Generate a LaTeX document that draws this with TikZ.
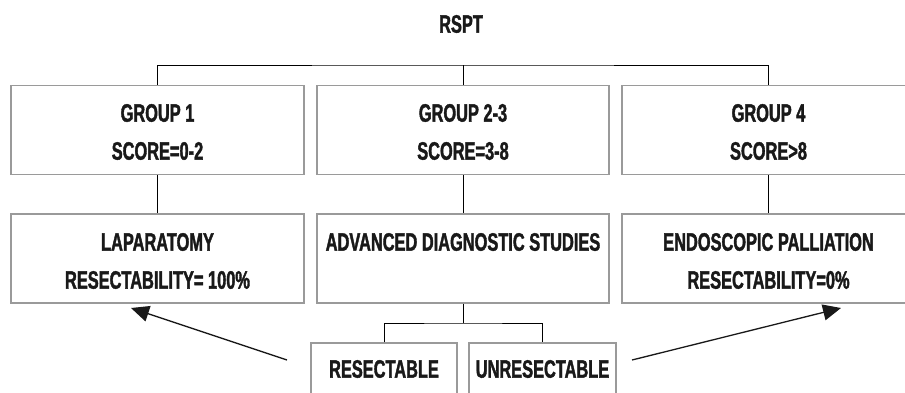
\documentclass[tikz,border=0pt]{standalone}
\usepackage{fontspec}
\newfontfamily\cf[FakeStretch=0.65,FakeBold=1.5]{Liberation Sans Bold}
\usetikzlibrary{arrows.meta}
\definecolor{boxgray}{HTML}{9A9A9A}
\begin{document}
\begin{tikzpicture}[x=1pt,y=-1pt,
  box/.style={draw=boxgray, line width=1.1pt, inner sep=0pt, minimum height=89pt},
  txt/.style={font=\cf\fontsize{25.2}{30}\selectfont, text=black!90, inner sep=0pt},
  conn/.style={draw=black, line width=0.9pt},
  arr/.style={draw=black!90, line width=1.3pt, -{Triangle[length=18pt,width=16pt]}}]
\clip (0,0) rectangle (905,392);
\fill[white] (0,0) rectangle (905,392);
% title
\node[txt] (title) at (461,24) {RSPT};
% group boxes
\node[box, minimum width=293pt] (g1) at (157.5,130) {};
\node[box, minimum width=292pt] (g2) at (463,130) {};
\node[box, minimum width=293pt] (g3) at (768.5,130) {};
% lower boxes
\node[box, minimum width=293pt] (l1) at (157.5,258.5) {};
\node[box, minimum width=292pt] (l2) at (463,258.5) {};
\node[box, minimum width=293pt] (l3) at (768.5,258.5) {};
% bottom boxes
\node[box, minimum width=146pt, minimum height=53pt] (r1) at (384,369.5) {};
\node[box, minimum width=147pt, minimum height=53pt] (r2) at (542.5,369.5) {};
% texts
\node[txt] (g1a) at (157.5,113) {GROUP 1};
\node[txt] (g1b) at (157.5,151) {SCORE=0-2};
\node[txt] (g2a) at (463,113) {GROUP 2-3};
\node[txt] (g2b) at (463,151) {SCORE=3-8};
\node[txt] (g3a) at (768.5,113) {GROUP 4};
\node[txt] (g3b) at (768.5,151) {SCORE>8};
\node[txt] (l1a) at (157.5,242) {LAPARATOMY};
\node[txt] (l1b) at (157.5,280) {RESECTABILITY= 100\%};
\node[txt] (l2a) at (463,242) {ADVANCED DIAGNOSTIC STUDIES};
\node[txt] (l3a) at (768.5,242) {ENDOSCOPIC PALLIATION};
\node[txt] (l3b) at (768.5,280) {RESECTABILITY=0\%};
\node[txt] (r1a) at (384,369) {RESECTABLE};
\node[txt] (r2a) at (542.5,369) {UNRESECTABLE};
% connectors
\coordinate (bus) at (463,65);
\coordinate (bus2) at (463,323);
\draw[conn] (g1.north) |- (bus) -| (g3.north);
\draw[conn] (g2.north) -- (bus);
\draw[conn] (g1.south) -- (l1.north);
\draw[conn] (g2.south) -- (l2.north);
\draw[conn] (g3.south) -- (l3.north);
\draw[conn] (l2.south) -- (bus2);
\draw[conn] (r1.north) |- (bus2) -| (r2.north);
% arrows
\coordinate (a1s) at (287,360);
\coordinate (a1e) at (131,308);
\coordinate (a2s) at (632,360);
\coordinate (a2e) at (841,308);
\draw[arr] (a1s) -- (a1e);
\draw[arr] (a2s) -- (a2e);
\end{tikzpicture}
\end{document}
